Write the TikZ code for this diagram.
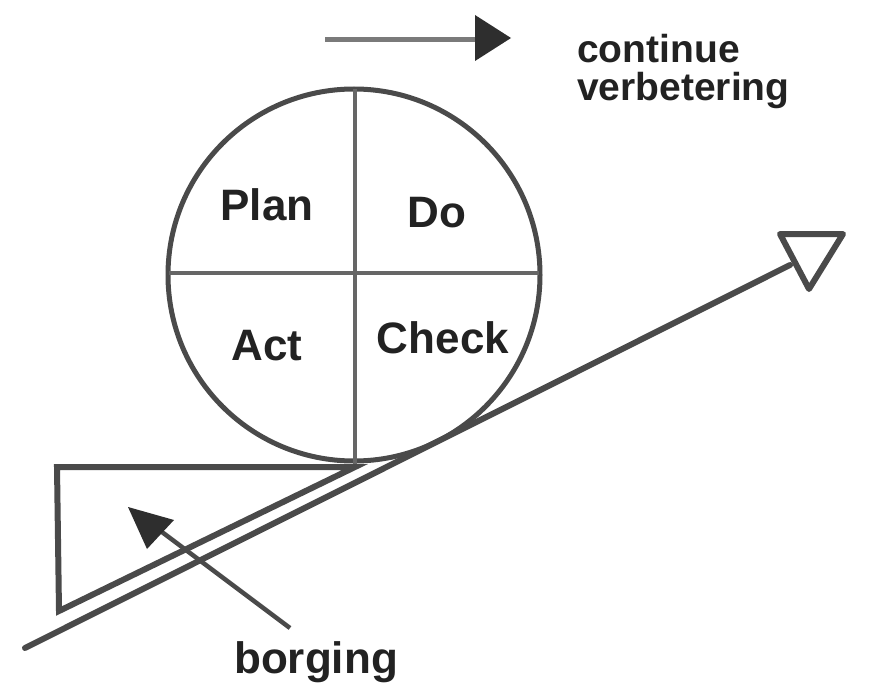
\documentclass[tikz,border=0pt]{standalone}
\usepackage{fontspec}
\setmainfont{Liberation Sans}
\definecolor{linedark}{HTML}{4A4A4A}
\definecolor{linemid}{HTML}{666666}
\definecolor{linelight}{HTML}{7A7A7A}
\definecolor{headdark}{HTML}{2E2E2E}
\definecolor{textdark}{HTML}{222222}
\tikzset{
  mainline/.style={draw=linedark, line width=6pt, line cap=round, line join=miter},
  thinline/.style={draw=linemid, line width=4pt},
  lbl/.style={font=\bfseries\fontsize{44pt}{48pt}\selectfont, text=textdark, inner sep=0pt},
  lblsmall/.style={font=\bfseries\fontsize{39pt}{42pt}\selectfont, text=textdark, inner sep=0pt},
  headfill/.style={fill=headdark, draw=none}
}
\begin{document}
\begin{tikzpicture}[x=1pt,y=-1pt]
\useasboundingbox (0,0) rectangle (892,685);
\fill[white] (0,0) rectangle (892,685);

% circle with quadrants
\coordinate (c) at (354,275);
\draw[draw=linedark, line width=5pt] (c) circle[radius=186];
\coordinate (vtop) at (355,89);
\coordinate (vbot) at (355,467);
\coordinate (hl) at (169,273);
\coordinate (hr) at (539,273);
\draw[thinline] (vtop) -- (vbot);
\draw[thinline] (hl) -- (hr);

% wedge
\coordinate (w1) at (57,467);
\coordinate (w2) at (355,467);
\coordinate (w3) at (59,611);
\draw[mainline, line cap=butt] (w1) -- (w2) -- (w3) -- cycle;

% main rising line with open triangle
\coordinate (mA) at (25,648);
\coordinate (mB) at (790,265);
\draw[mainline] (mA) -- (mB);
\coordinate (t1) at (780,234);
\coordinate (t2) at (843,234);
\coordinate (t3) at (809,289);
\draw[mainline, line join=round] (t1) -- (t2) -- (t3) -- cycle;

% top arrow
\coordinate (aS) at (325,40);
\coordinate (aE) at (478,40);
\draw[draw=linelight, line width=5pt] (aS) -- (aE);
\coordinate (ah1) at (475,15);
\coordinate (ah2) at (511,38);
\coordinate (ah3) at (475,61);
\fill[headfill] (ah1) -- (ah2) -- (ah3) -- cycle;

% borging arrow
\coordinate (bS) at (290,628);
\coordinate (bE) at (150,523);
\draw[draw=linedark, line width=4.5pt] (bS) -- (bE);
\coordinate (bh1) at (128,507);
\coordinate (bh2) at (174,520);
\coordinate (bh3) at (147,549);
\fill[headfill] (bh1) -- (bh2) -- (bh3) -- cycle;

% labels
\node[lbl, anchor=base] (plan) at (267,220) {Plan};
\node[lbl, anchor=base] (do) at (437,227) {Do};
\node[lbl, anchor=base] (act) at (267,360) {Act};
\node[lbl, anchor=base] (check) at (443,353) {Check};
\node[lbl, anchor=base] (borg) at (316,673) {borging};
\node[lblsmall, anchor=base west] (cont) at (577,63) {continue};
\node[lblsmall, anchor=base west] (verb) at (577,100) {verbetering};
\end{tikzpicture}
\end{document}
